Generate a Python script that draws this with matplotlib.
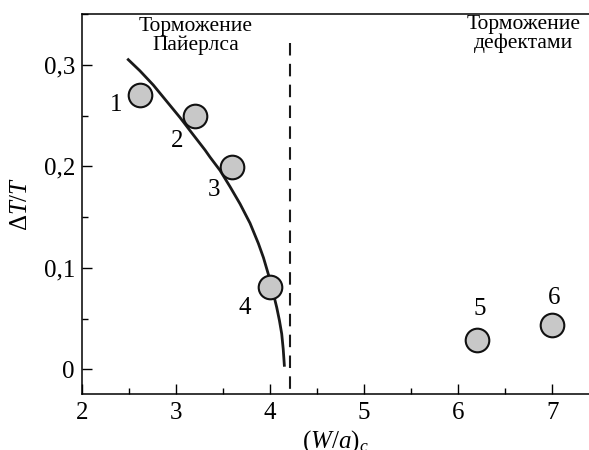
# plot.py
# relative velocity drop vs (W/a)_c, Peierls vs defect drag

import matplotlib
matplotlib.use("Agg")
from matplotlib import pyplot as plt
from matplotlib.ticker import MultipleLocator

# measured points (1..6)
point_labels = ["1", "2", "3", "4", "5", "6"]
wa_points = [2.62, 3.20, 3.60, 4.00, 6.20, 7.00]
dt_points = [0.270, 0.250, 0.199, 0.081, 0.029, 0.044]

# Peierls drag curve
wa_curve = [2.493, 2.617, 2.759, 2.901, 3.043, 3.167, 3.309, 3.362, 3.468,
            3.574, 3.681, 3.787, 3.876, 3.930, 4.000, 4.071, 4.100, 4.124,
            4.140, 4.152]
dt_curve = [0.305, 0.294, 0.280, 0.264, 0.248, 0.233, 0.216, 0.209, 0.196,
            0.180, 0.163, 0.144, 0.124, 0.110, 0.088, 0.061, 0.048, 0.035,
            0.020, 0.004]

# boundary between the two regimes
boundary_wa = 4.21
boundary_top = 0.321

y_ticks = [0, 0.1, 0.2, 0.3]
y_tick_labels = ["0", "0,1", "0,2", "0,3"]
x_ticks = [2, 3, 4, 5, 6, 7]

# label offsets from each point, in points
label_offsets = [(-17, -7), (-13, -18), (-13, -16), (-18, -15), (2, 22), (1, 19)]

plt.rcParams["font.family"] = ["Liberation Serif", "DejaVu Serif"]
plt.rcParams["mathtext.fontset"] = "custom"
plt.rcParams["mathtext.rm"] = "Liberation Serif"
plt.rcParams["mathtext.it"] = "Liberation Serif:italic"

fig = plt.figure(figsize=(5.89, 4.5), dpi=100)
ax = fig.add_axes([0.139, 0.125, 0.861, 0.844])

ax.plot(wa_curve, dt_curve, color="#1a1a1a", linewidth=2.0, zorder=2,
        solid_joinstyle="round")
ax.plot([boundary_wa, boundary_wa], [boundary_top, -0.03], color="#1a1a1a",
        linewidth=1.5, dashes=(6, 4), zorder=1)
ax.plot(wa_points, dt_points, linestyle="none", marker="o", markersize=17,
        markerfacecolor="#c8c8c8", markeredgecolor="#111111",
        markeredgewidth=1.5, zorder=3)

for lab, x, y, off in zip(point_labels, wa_points, dt_points, label_offsets):
    ax.annotate(lab, (x, y), xytext=off, textcoords="offset points",
                ha="center", va="center", fontsize=18)

ax.text(3.21, 0.347, "Торможение\nПайерлса", ha="center", va="top",
        fontsize=15.5, linespacing=1.0)
ax.text(6.69, 0.349, "Торможение\nдефектами", ha="center", va="top",
        fontsize=15.5, linespacing=1.0)

ax.set_xlim(2, 7.39)
ax.set_ylim(-0.024, 0.35)
ax.set_xticks(x_ticks)
ax.set_yticks(y_ticks)
ax.set_yticklabels(y_tick_labels)
ax.xaxis.set_minor_locator(MultipleLocator(0.5))
ax.yaxis.set_minor_locator(MultipleLocator(0.05))
ax.tick_params(which="both", direction="in", labelsize=18, width=1.0)
ax.tick_params(which="major", length=7, pad=5)
ax.tick_params(which="minor", length=4)
ax.tick_params(axis="x", pad=6)

ax.spines["right"].set_visible(False)
for side in ["left", "bottom", "top"]:
    ax.spines[side].set_linewidth(1.1)

ax.set_xlabel(r"$(W/a)_c$", fontsize=18, labelpad=3)
ax.set_ylabel(r"$\Delta T/T$", fontsize=18, labelpad=8)

plt.savefig("out.png", dpi=100)
